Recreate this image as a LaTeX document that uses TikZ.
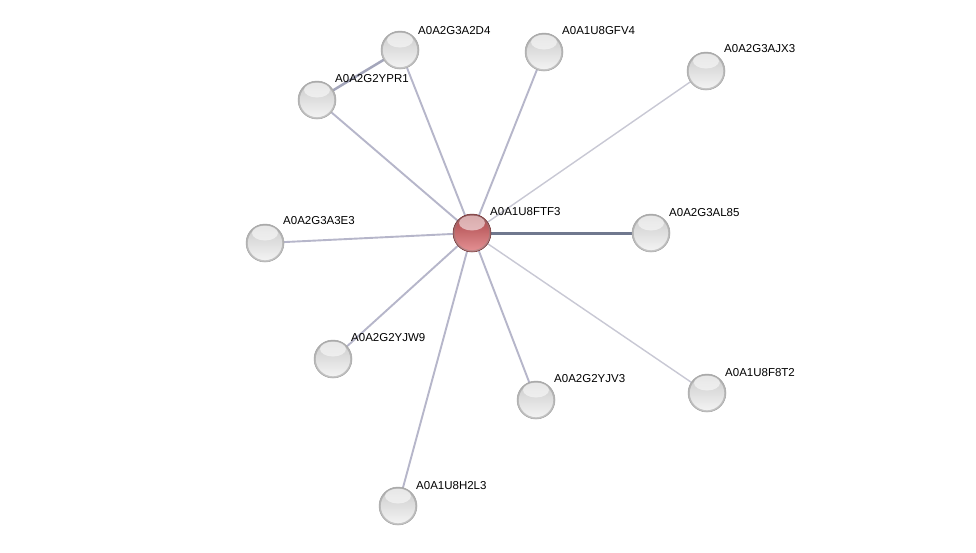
\documentclass[tikz,border=0pt]{standalone}
\usepackage{fontspec}
\setmainfont{Liberation Sans}
\pgfdeclarelayer{bg}
\pgfsetlayers{bg,main}
\definecolor{edgec}{RGB}{182,182,202}
\definecolor{edgelight}{RGB}{200,200,212}
\definecolor{edgedark}{RGB}{112,120,142}
\definecolor{redball}{RGB}{216,88,92}
\begin{document}
\begin{tikzpicture}[x=1pt,y=-1pt,
  prot/.style={circle,minimum size=38pt,inner sep=0pt,draw=gray!70,line width=0.5pt,
    top color=gray!42,middle color=gray!22,bottom color=gray!8,
    path picture={
      \draw[black!50,line width=2pt,opacity=0.4] (path picture bounding box.center) circle (18.3pt);
      \fill[white,opacity=0.55] ([yshift=-9pt]path picture bounding box.north) ellipse (13pt and 7.5pt);}},
  seed/.style={prot,draw=redball!50!black,top color=redball!78!black,middle color=redball,bottom color=redball!65!white},
  lab/.style={anchor=south west,inner sep=0pt,font=\fontsize{11.5}{13}\selectfont},
  edge/.style={draw=edgec,line width=1.9pt},
  edgel/.style={draw=edgelight,line width=1.4pt},
  edged/.style={draw=edgedark,line width=3pt}]
\useasboundingbox (0,0) rectangle (976,552);
% nodes
\node[seed] (c) at (472,233) {};
\node[prot] (a2d4) at (400,50) {};
\node[prot] (ypr1) at (317,100) {};
\node[prot] (gfv4) at (544,52) {};
\node[prot] (ajx3) at (706,71) {};
\node[prot] (al85) at (651,233) {};
\node[prot] (a3e3) at (265,243) {};
\node[prot] (yjw9) at (333,359) {};
\node[prot] (yjv3) at (536,400) {};
\node[prot] (f8t2) at (707,393) {};
\node[prot] (h2l3) at (398,506) {};
% labels
\node[lab] (lc) at (490,216) {A0A1U8FTF3};
\node[lab] (l1) at (418,35) {A0A2G3A2D4};
\node[lab] (l2) at (335,83) {A0A2G2YPR1};
\node[lab] (l3) at (562,35) {A0A1U8GFV4};
\node[lab] (l4) at (724,53) {A0A2G3AJX3};
\node[lab] (l5) at (669,217) {A0A2G3AL85};
\node[lab] (l6) at (283,225) {A0A2G3A3E3};
\node[lab] (l7) at (351,342) {A0A2G2YJW9};
\node[lab] (l8) at (554,383) {A0A2G2YJV3};
\node[lab] (l9) at (725,377) {A0A1U8F8T2};
\node[lab] (l10) at (416,490) {A0A1U8H2L3};
% edges
\begin{pgfonlayer}{bg}
\fill[white] (0,0) rectangle (976,552);
\draw[edge] (c.center) -- (a2d4.center);
\draw[edge] (c.center) -- (ypr1.center);
\draw[edge] (c.center) -- (gfv4.center);
\draw[edgel] (c.center) -- (ajx3.center);
\draw[edged] (c.center) -- (al85.center);
\draw[edge] (c.center) -- (a3e3.center);
\draw[edge] (c.center) -- (yjw9.center);
\draw[edge] (c.center) -- (yjv3.center);
\draw[edgel] (c.center) -- (f8t2.center);
\draw[edge] (c.center) -- (h2l3.center);
\draw[edge,draw=edgec!75!edgedark,line width=2.5pt] (a2d4.center) -- (ypr1.center);
\end{pgfonlayer}
\end{tikzpicture}
\end{document}
